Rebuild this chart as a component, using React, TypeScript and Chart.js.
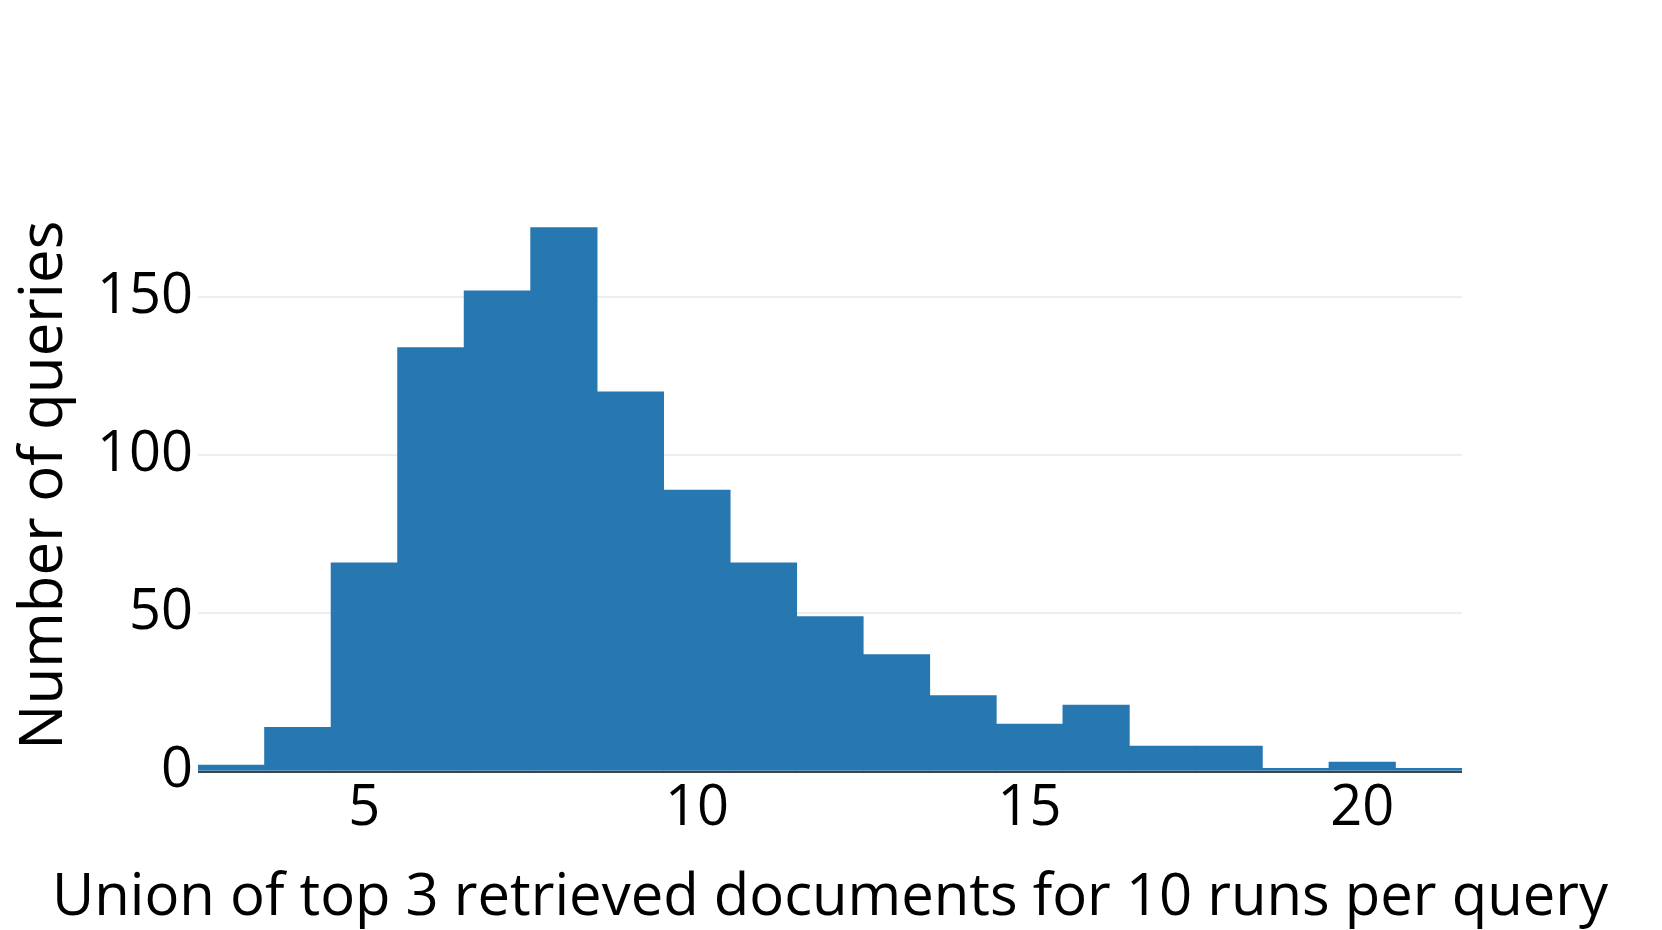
import React, { useEffect, useRef } from "react";
import { Chart, registerables } from "chart.js";

Chart.register(...registerables);

// Histogram bins (centre of each unit-wide bin) and query counts
const binCenters = [3, 4, 5, 6, 7, 8, 9, 10, 11, 12, 13, 14, 15, 16, 17, 18, 19, 20, 21];
const counts = [2, 14, 66, 134, 152, 172, 120, 89, 66, 49, 37, 24, 15, 21, 8, 8, 1, 3, 1];
const xTickValues = [5, 10, 15, 20];
const yTickValues = [0, 50, 100, 150];
const xTitle = "Union of top 3 retrieved documents for 10 runs per query";
const yTitle = "Number of queries";

const FONT = "'Open Sans', 'Noto Sans', sans-serif";
const BAR_COLOR = "#2777b1";

// x-axis title drawn centred under the plot, free to extend past the plot width
const xTitlePlugin = {
  id: "xTitleWide",
  afterDraw(chart: any) {
    const { ctx, chartArea } = chart;
    ctx.save();
    ctx.font = `58px ${FONT}`;
    ctx.fillStyle = "#000";
    ctx.textAlign = "center";
    ctx.textBaseline = "middle";
    ctx.fillText(xTitle, (chartArea.left + chartArea.right) / 2, chart.height - 32);
    ctx.restore();
  },
};

export default function App() {
  const canvasRef = useRef<HTMLCanvasElement | null>(null);

  useEffect(() => {
    const canvas = canvasRef.current;
    if (!canvas) return;
    const chart = new Chart(canvas, {
      type: "bar",
      data: {
        datasets: [
          {
            data: binCenters.map((x, i) => ({ x, y: counts[i] })),
            backgroundColor: BAR_COLOR,
            borderWidth: 0,
            barPercentage: 1,
            categoryPercentage: 1,
          },
        ],
      },
      plugins: [xTitlePlugin],
      options: {
        responsive: false,
        animation: false,
        devicePixelRatio: 1,
        layout: { padding: { top: 199, right: 200, bottom: 0, left: 0 } },
        plugins: {
          legend: { display: false },
          tooltip: { enabled: false },
        },
        scales: {
          x: {
            type: "linear",
            min: 2.5,
            max: 21.5,
            offset: false,
            afterBuildTicks: (s: any) => {
              s.ticks = xTickValues.map((v) => ({ value: v }));
            },
            afterFit: (s: any) => {
              s.height = 158.5;
            },
            grid: { display: false, drawTicks: false, offset: false },
            border: { display: false },
            ticks: {
              font: { family: FONT, size: 56 },
              color: "#000",
              padding: 4,
              maxRotation: 0,
              autoSkip: false,
            },
            title: { display: false },
          },
          y: {
            type: "linear",
            min: 0,
            max: 181,
            afterBuildTicks: (s: any) => {
              s.ticks = yTickValues.map((v) => ({ value: v }));
            },
            afterFit: (s: any) => {
              s.width = 198;
            },
            grid: {
              color: (ctx: any) => (ctx.tick && ctx.tick.value === 0 ? "#444" : "#eeeeee"),
              lineWidth: 2,
              drawTicks: false,
            },
            border: { display: false },
            ticks: {
              font: { family: FONT, size: 56 },
              color: "#000",
              padding: 5,
            },
            title: {
              display: true,
              text: yTitle,
              font: { family: FONT, size: 60, lineHeight: 1 },
              color: "#000",
              padding: { top: 15, bottom: 0 },
            },
          },
        },
      },
    });
    return () => chart.destroy();
  }, []);

  return (
    <div
      style={{
        position: "fixed",
        left: 0,
        top: 0,
        width: 1662,
        height: 930,
        background: "#fff",
      }}
    >
      <canvas ref={canvasRef} width={1662} height={930} style={{ display: "block" }} />
    </div>
  );
}
